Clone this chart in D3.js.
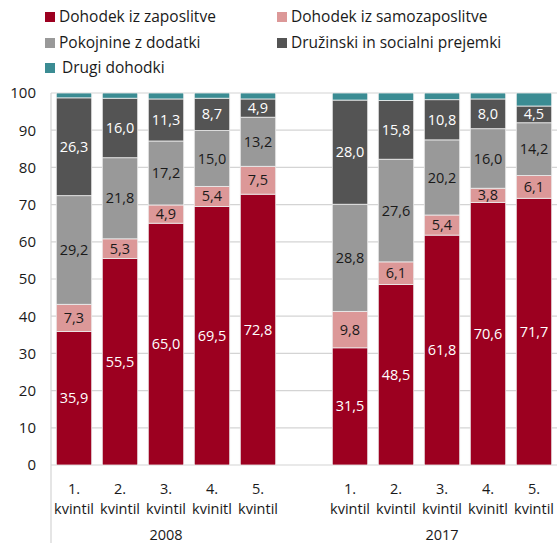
<!DOCTYPE html>
<html>
<head>
<meta charset="utf-8">
<script src="https://cdn.jsdelivr.net/npm/d3@7"></script>
<style>
  body { margin: 0; background: #fff; }
  text { font-family: "Open Sans", "Noto Sans", sans-serif; }
</style>
</head>
<body>
<svg id="chart"></svg>
<script>
var years = ["2008", "2017"];
var quintiles = ["1.", "2.", "3.", "4.", "5."];
var quintileWords = ["kvintil", "kvintil", "kvintil", "kvinitl", "kvintil"];
var seriesNames = ["Dohodek iz zaposlitve", "Dohodek iz samozaposlitve", "Pokojnine z dodatki", "Družinski in socialni prejemki", "Drugi dohodki"];
var seriesColors = ["#9c0020", "#dc9898", "#999999", "#545454", "#3b8c93"];

// values per bar: 2008 q1..q5, then 2017 q1..q5
var employment = [35.9, 55.5, 65.0, 69.5, 72.8, 31.5, 48.5, 61.8, 70.6, 71.7];
var selfEmployment = [7.3, 5.3, 4.9, 5.4, 7.5, 9.8, 6.1, 5.4, 3.8, 6.1];
var pensions = [29.2, 21.8, 17.2, 15.0, 13.2, 28.8, 27.6, 20.2, 16.0, 14.2];
var familySocial = [26.3, 16.0, 11.3, 8.7, 4.9, 28.0, 15.8, 10.8, 8.0, 4.5];
var other = [1.3, 1.4, 1.6, 1.4, 1.6, 1.9, 2.0, 1.8, 1.6, 3.5];
var yTicks = [0, 10, 20, 30, 40, 50, 60, 70, 80, 90, 100];

var dimensions = {
  width: 557,
  height: 543,
  margin: { top: 93, bottom: 78, left: 51, right: 0 }
};

var svg = d3.select("#chart")
  .attr("width", dimensions.width)
  .attr("height", dimensions.height);

// build bar table
var keys = ["s0", "s1", "s2", "s3", "s4"];
var seriesArrays = [employment, selfEmployment, pensions, familySocial, other];
var bars = [];
years.forEach(function (yr, yi) {
  quintiles.forEach(function (q, qi) {
    var i = yi * 5 + qi;
    var row = { id: yr + "-" + qi, year: yr, q: q, word: quintileWords[qi] };
    keys.forEach(function (k, ki) { row[k] = seriesArrays[ki][i]; });
    bars.push(row);
  });
});

var slots = bars.slice(0, 5).map(d => d.id).concat(["gap"]).concat(bars.slice(5).map(d => d.id));

var xScale = d3.scaleBand()
  .domain(slots)
  .range([dimensions.margin.left, dimensions.width - dimensions.margin.right])
  .paddingInner(0.23)
  .paddingOuter(0.115);

var yScale = d3.scaleLinear()
  .domain([0, 100])
  .range([dimensions.height - dimensions.margin.bottom, dimensions.margin.top]);

// gridlines
svg.append("g")
  .selectAll("line")
  .data(yTicks)
  .enter()
  .append("line")
  .attr("x1", dimensions.margin.left)
  .attr("x2", dimensions.width)
  .attr("y1", d => yScale(d))
  .attr("y2", d => yScale(d))
  .attr("stroke", "#d4d4d4")
  .attr("stroke-width", 1.2);

// y axis line running down to the bottom
svg.append("line")
  .attr("x1", dimensions.margin.left)
  .attr("x2", dimensions.margin.left)
  .attr("y1", yScale(100))
  .attr("y2", dimensions.height)
  .attr("stroke", "#d4d4d4")
  .attr("stroke-width", 1.2);

var yAxisgen = d3.axisLeft(yScale).tickValues(yTicks).tickSize(0).tickPadding(15);
var yAxis = svg.append("g")
  .attr("transform", "translate(" + dimensions.margin.left + ",0)")
  .call(yAxisgen);
yAxis.select(".domain").remove();
yAxis.selectAll("text")
  .attr("font-size", 15)
  .attr("fill", "#1a1a1a")
  .style("font-family", "'Open Sans', sans-serif");

var stack = d3.stack().keys(keys);
var stacked = stack(bars);

var layers = svg.append("g")
  .selectAll("g")
  .data(stacked)
  .enter()
  .append("g")
  .attr("fill", (d, i) => seriesColors[i]);

layers.selectAll("rect")
  .data(d => d)
  .enter()
  .append("rect")
  .attr("x", d => xScale(d.data.id))
  .attr("width", xScale.bandwidth())
  .attr("y", d => yScale(d[1]))
  .attr("height", d => yScale(d[0]) - yScale(d[1]))
  .attr("stroke", "#eeeeee")
  .attr("stroke-width", 0.8);

// value labels (not for the small "other" layer)
var labelColors = ["#ffffff", "#1a1a1a", "#1a1a1a", "#ffffff"];
layers.filter((d, i) => i < 4)
  .each(function (layer, li) {
    d3.select(this).selectAll("text")
      .data(layer)
      .enter()
      .append("text")
      .attr("x", d => xScale(d.data.id) + xScale.bandwidth() / 2)
      .attr("y", d => yScale((d[0] + d[1]) / 2))
      .attr("dy", "0.35em")
      .attr("text-anchor", "middle")
      .attr("font-size", 14.5)
      .attr("fill", labelColors[li])
      .text(d => d3.format(".1f")(d[1] - d[0]).replace(".", ","));
  });

// x labels
var xLabels = svg.append("g")
  .selectAll("g")
  .data(bars)
  .enter()
  .append("g")
  .attr("transform", d => "translate(" + (xScale(d.id) + xScale.bandwidth() / 2) + ",0)");

xLabels.append("text")
  .attr("y", 494)
  .attr("text-anchor", "middle")
  .attr("font-size", 14.5)
  .attr("fill", "#1a1a1a")
  .text(d => d.q);

xLabels.append("text")
  .attr("y", 514)
  .attr("text-anchor", "middle")
  .attr("font-size", 14.5)
  .attr("fill", "#1a1a1a")
  .text(d => d.word);

svg.append("g")
  .selectAll("text")
  .data(years)
  .enter()
  .append("text")
  .attr("x", (d, i) => {
    var ids = bars.filter(b => b.year === d).map(b => b.id);
    return xScale(ids[2]) + xScale.bandwidth() / 2;
  })
  .attr("y", 540)
  .attr("text-anchor", "middle")
  .attr("font-size", 14.5)
  .attr("fill", "#1a1a1a")
  .text(d => d);

// legend
var legendPos = [[45, 17], [277, 17], [45, 43], [277, 43], [45, 68]];
var legend = svg.append("g")
  .selectAll("g")
  .data(seriesNames)
  .enter()
  .append("g")
  .attr("transform", (d, i) => "translate(" + legendPos[i][0] + "," + legendPos[i][1] + ")");

legend.append("rect")
  .attr("x", 0)
  .attr("y", -5)
  .attr("width", 10)
  .attr("height", 10)
  .attr("fill", (d, i) => seriesColors[i]);

legend.append("text")
  .attr("x", (d, i) => i === 4 ? 17 : 14)
  .attr("dy", "0.35em")
  .attr("font-size", 15.5)
  .attr("fill", "#1a1a1a")
  .text(d => d);
</script>
</body>
</html>
